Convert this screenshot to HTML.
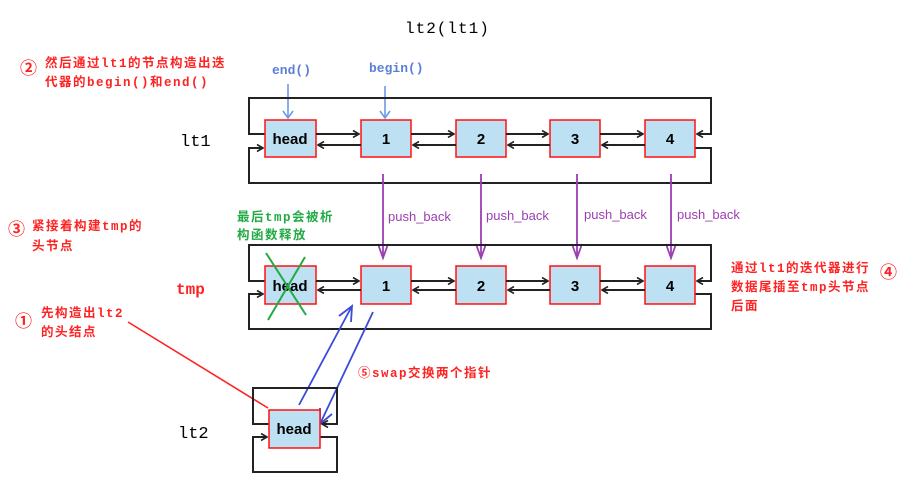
<!DOCTYPE html>
<html><head><meta charset="utf-8"><style>
html,body{margin:0;padding:0;background:#fff;}
svg{display:block;}
text{font-family:"Liberation Sans","Noto Sans CJK SC",sans-serif;}
.cn{font-family:"Liberation Mono","Noto Sans CJK SC",monospace;font-size:12.5px;letter-spacing:1.5px;font-weight:bold;}
.num{font-size:17px;font-weight:bold;}
.box{fill:#bde0f3;stroke:#f11;stroke-width:1.5;}
.bl{font-weight:bold;font-size:15px;fill:#000;text-anchor:middle;}
.k{stroke:#222;stroke-width:2;fill:none;}
</style></head><body>
<svg width="912" height="482" viewBox="0 0 912 482" xmlns="http://www.w3.org/2000/svg">
<defs>
<marker id="ak" markerWidth="8" markerHeight="8" refX="7" refY="4" orient="auto" markerUnits="userSpaceOnUse"><path d="M1,0.5 L7,4 L1,7.5" fill="none" stroke="#222" stroke-width="1.6"/></marker>
</defs>

<text x="405" y="33" font-size="16" style="font-family:'Liberation Mono',monospace;letter-spacing:1px">lt2(lt1)</text>

<text x="20" y="74" class="num" fill="#f22">②</text>
<text x="45" y="67" class="cn" fill="#f22">然后通过lt1的节点构造出迭</text>
<text x="45" y="86" class="cn" fill="#f22">代器的begin()和end()</text>

<text x="272" y="74" font-size="13" fill="#5b7fd6" style="font-family:'Liberation Mono',monospace;font-weight:bold">end()</text>
<text x="369" y="72" font-size="13" fill="#5b7fd6" style="font-family:'Liberation Mono',monospace;font-weight:bold">begin()</text>
<line x1="288" y1="84" x2="288" y2="118" stroke="#6a9be8" stroke-width="1.6"/>
<path d="M283,111 L288,118 L293,111" fill="none" stroke="#6a9be8" stroke-width="1.6"/>
<line x1="385" y1="86" x2="385" y2="118" stroke="#6a9be8" stroke-width="1.6"/>
<path d="M380,111 L385,118 L390,111" fill="none" stroke="#6a9be8" stroke-width="1.6"/>

<text x="180" y="146" font-size="17" style="font-family:'Liberation Mono',monospace;">lt1</text>

<!-- lt1 row -->
<path class="k" d="M265,134 H249 V98 H711 V134 H697" marker-end="url(#ak)"/>
<path class="k" d="M695,148 H711 V183 H249 V148 H263" marker-end="url(#ak)"/>
<rect class="box" x="265" y="120" width="51" height="37"/><text class="bl" x="290" y="144">head</text>
<rect class="box" x="361" y="120" width="50" height="37"/><text class="bl" x="386" y="144">1</text>
<rect class="box" x="456" y="120" width="50" height="37"/><text class="bl" x="481" y="144">2</text>
<rect class="box" x="550" y="120" width="50" height="37"/><text class="bl" x="575" y="144">3</text>
<rect class="box" x="645" y="120" width="50" height="37"/><text class="bl" x="670" y="144">4</text>
<g class="k" marker-end="url(#ak)">
<line x1="316" y1="134" x2="359" y2="134"/><line x1="361" y1="145" x2="318" y2="145"/>
<line x1="411" y1="134" x2="454" y2="134"/><line x1="456" y1="145" x2="413" y2="145"/>
<line x1="506" y1="134" x2="548" y2="134"/><line x1="550" y1="145" x2="508" y2="145"/>
<line x1="600" y1="134" x2="643" y2="134"/><line x1="645" y1="145" x2="602" y2="145"/>
</g>

<!-- push_back -->
<g stroke="#9b3fb0" stroke-width="1.8" fill="none">
<line x1="383" y1="174" x2="383" y2="258"/><path d="M378,244 L383,258 L388,244"/>
<line x1="481" y1="174" x2="481" y2="258"/><path d="M476,244 L481,258 L486,244"/>
<line x1="577" y1="174" x2="577" y2="258"/><path d="M572,244 L577,258 L582,244"/>
<line x1="671" y1="174" x2="671" y2="258"/><path d="M666,244 L671,258 L676,244"/>
</g>
<g font-size="13" fill="#9b3fb0" style="font-family:'Liberation Mono',monospace;">
<text x="388" y="221">push_back</text><text x="486" y="220">push_back</text>
<text x="584" y="219">push_back</text><text x="677" y="219">push_back</text>
</g>

<text x="8" y="235" class="num" fill="#f22">③</text>
<text x="32" y="230" class="cn" fill="#f22">紧接着构建tmp的</text>
<text x="32" y="250" class="cn" fill="#f22">头节点</text>
<text x="237" y="221" class="cn" fill="#22aa44">最后tmp会被析</text>
<text x="237" y="239" class="cn" fill="#22aa44">构函数释放</text>
<text x="176" y="294" font-size="16" fill="#f22" style="font-family:'Liberation Mono',monospace;font-weight:bold">tmp</text>

<!-- tmp row -->
<path class="k" d="M265,281 H249 V245 H711 V281 H697" marker-end="url(#ak)"/>
<path class="k" d="M695,294 H711 V329 H249 V294 H263" marker-end="url(#ak)"/>
<rect class="box" x="265" y="266" width="51" height="38"/><text class="bl" x="290" y="291">head</text>
<rect class="box" x="361" y="266" width="50" height="38"/><text class="bl" x="386" y="291">1</text>
<rect class="box" x="456" y="266" width="50" height="38"/><text class="bl" x="481" y="291">2</text>
<rect class="box" x="550" y="266" width="50" height="38"/><text class="bl" x="575" y="291">3</text>
<rect class="box" x="645" y="266" width="50" height="38"/><text class="bl" x="670" y="291">4</text>
<g class="k" marker-end="url(#ak)">
<line x1="316" y1="281" x2="359" y2="281"/><line x1="361" y1="290" x2="318" y2="290"/>
<line x1="411" y1="281" x2="454" y2="281"/><line x1="456" y1="290" x2="413" y2="290"/>
<line x1="506" y1="281" x2="548" y2="281"/><line x1="550" y1="290" x2="508" y2="290"/>
<line x1="600" y1="281" x2="643" y2="281"/><line x1="645" y1="290" x2="602" y2="290"/>
</g>
<g stroke="#22aa44" stroke-width="2">
<line x1="266" y1="253" x2="306" y2="315"/><line x1="305" y1="257" x2="268" y2="320"/>
</g>

<text x="731" y="272" class="cn" fill="#f22">通过lt1的迭代器进行</text>
<text x="731" y="291" class="cn" fill="#f22">数据尾插至tmp头节点</text>
<text x="731" y="310" class="cn" fill="#f22">后面</text>
<text x="880" y="278" class="num" fill="#f22">④</text>

<text x="15" y="327" class="num" fill="#f22">①</text>
<text x="41" y="317" class="cn" fill="#f22">先构造出lt2</text>
<text x="41" y="336" class="cn" fill="#f22">的头结点</text>
<line x1="128" y1="322" x2="268" y2="408" stroke="#f22" stroke-width="1.6"/>

<!-- swap -->
<g stroke="#3a4bd6" stroke-width="1.8" fill="none">
<line x1="299" y1="405" x2="352" y2="306"/><path d="M351,322 L352,306 L339,316"/>
<line x1="373" y1="312" x2="320" y2="424"/><path d="M332,414 L320,424 L320,408"/>
</g>
<text x="358" y="377" class="cn" fill="#f22">⑤swap交换两个指针</text>

<text x="178" y="438" font-size="17" style="font-family:'Liberation Mono',monospace;">lt2</text>
<path class="k" d="M269,424 H253 V388 H337 V424 H322" marker-end="url(#ak)"/>
<path class="k" d="M320,437 H337 V472 H253 V437 H267" marker-end="url(#ak)"/>
<rect class="box" x="269" y="410" width="51" height="38"/><text class="bl" x="294" y="434">head</text>
</svg>
</body></html>
